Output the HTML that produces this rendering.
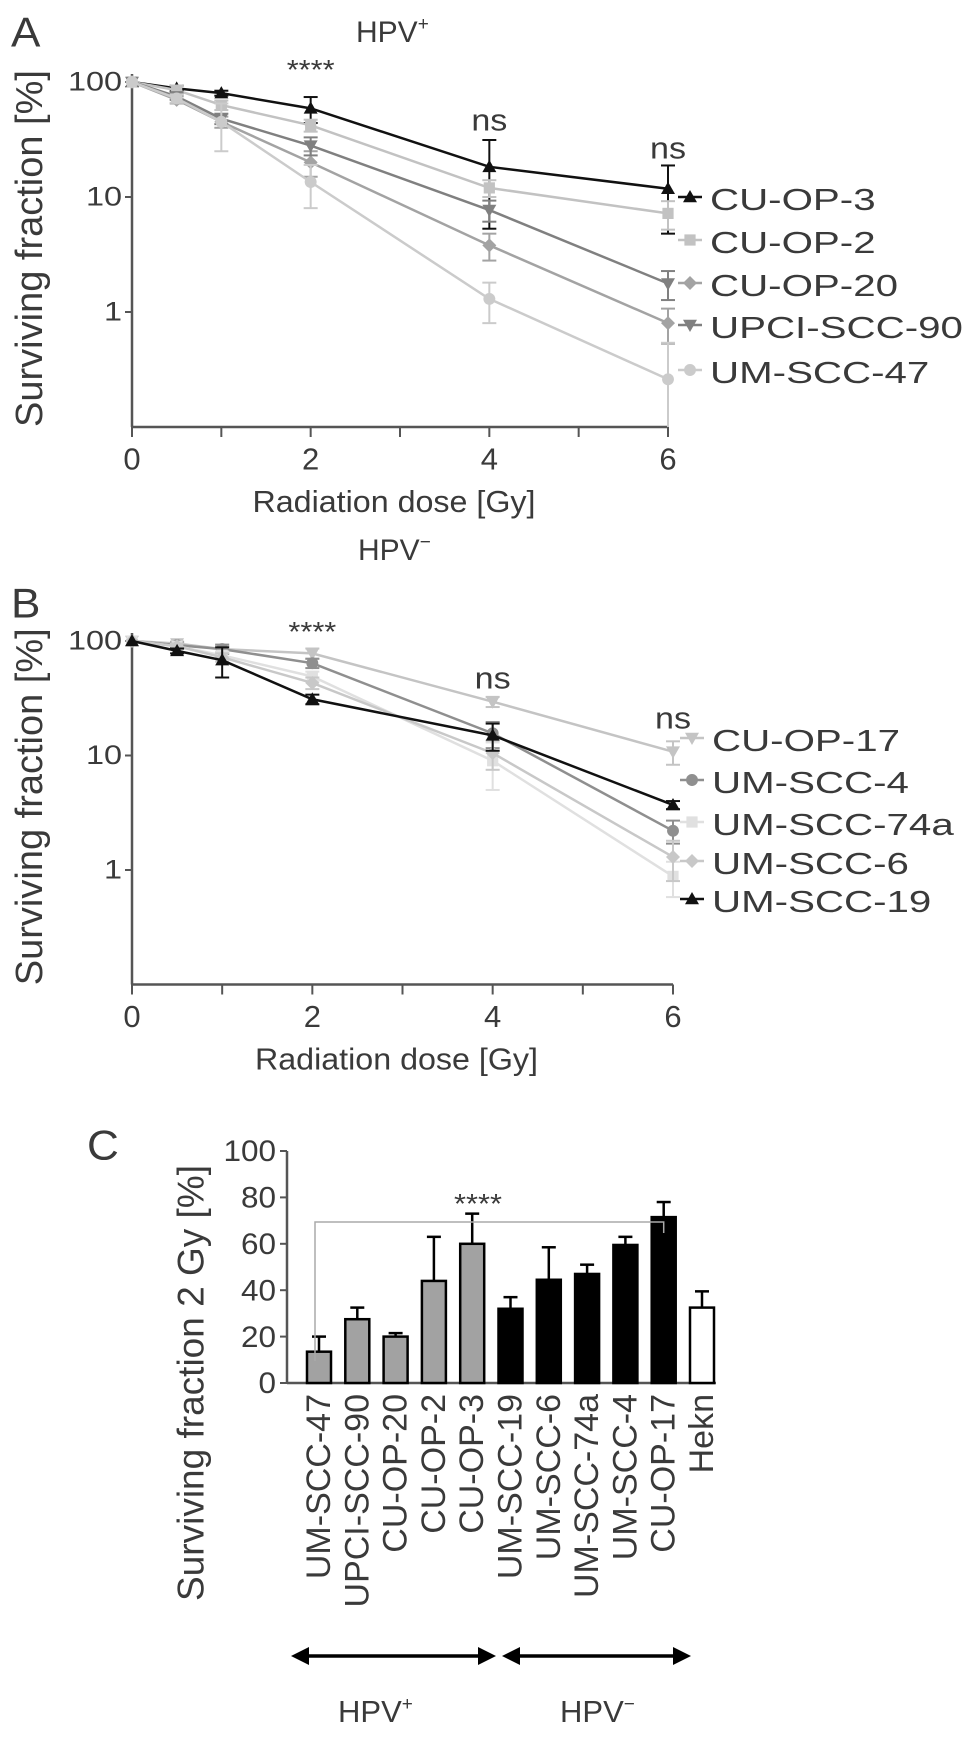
<!DOCTYPE html>
<html><head><meta charset="utf-8"><style>
html,body{margin:0;padding:0;background:#fff}
svg{display:block}
text{font-family:"Liberation Sans",Arial,sans-serif;fill:#3a3a3a}
</style></head><body>
<svg id="fig" width="969" height="1742" viewBox="0 0 969 1742" xmlns="http://www.w3.org/2000/svg"></svg>
<script>
// ---------- Data ----------
const doses = [0, 0.5, 1, 2, 4, 6];
// Panel A (HPV+)
const aNames = ["CU-OP-3","CU-OP-2","CU-OP-20","UPCI-SCC-90","UM-SCC-47"];
const aCuOp3 = [100, 88, 80, 59, 18.3, 11.8];
const aCuOp2 = [100, 85, 63, 42, 12, 7.2];
const aCuOp20 = [100, 70, 45, 20, 3.8, 0.8];
const aUpci90 = [100, 75, 48, 28, 7.7, 1.77];
const aUm47 = [100, 72, 45, 13.5, 1.3, 0.26];
const aErrCuOp3 = [0, 5, 4, 15, 13, 7];
const aErrCuOp2 = [0, 8, 6, 5, 2, 2];
const aErrCuOp20 = [0, 5, 5, 5, 1, 0.27];
const aErrUpci90 = [0, 5, 5, 5, 1.6, 0.5];
const aErrUm47 = [0, 6, 20, 5.5, 0.5, 0.28];
// Panel B (HPV-)
const bNames = ["CU-OP-17","UM-SCC-4","UM-SCC-74a","UM-SCC-6","UM-SCC-19"];
const bCuOp17 = [100, 95, 85, 78, 29.5, 10.8];
const bUm4 = [100, 92, 85, 64, 15.6, 2.2];
const bUm74a = [100, 90, 75, 49, 9, 0.88];
const bUm6 = [100, 90, 72, 43, 10.5, 1.3];
const bUm19 = [100, 82, 68, 31, 15, 3.7];
const bErrCuOp17 = [0, 4, 5, 8, 3, 2.5];
const bErrUm4 = [0, 5, 8, 6, 4, 0.5];
const bErrUm74a = [0, 5, 6, 5, 4, 0.3];
const bErrUm6 = [0, 5, 6, 5, 3, 0.5];
const bErrUm19 = [0, 4, 20, 3, 4, 0.3];
// Panel C
const cCats = ["UM-SCC-47","UPCI-SCC-90","CU-OP-20","CU-OP-2","CU-OP-3","UM-SCC-19","UM-SCC-6","UM-SCC-74a","UM-SCC-4","CU-OP-17","Hekn"];
const cVals = [13.5, 27.5, 20, 44, 60, 32, 44.5, 47, 59.5, 71.5, 32.5];
const cErrs = [6.5, 5, 1.5, 19, 13, 5, 14, 4, 3.5, 6.5, 7];
const cGroup = ["p","p","p","p","p","n","n","n","n","n","k"];
const cTicks = [0, 20, 40, 60, 80, 100];
const doseTicks = [0, 2, 4, 6];
const logTicks = [100, 10, 1];

// ---------- Helpers ----------
const NS = "http://www.w3.org/2000/svg";
const svg = document.getElementById("fig");
function el(tag, attrs, parent) {
  const e = document.createElementNS(NS, tag);
  for (const k in attrs) e.setAttribute(k, attrs[k]);
  (parent || svg).appendChild(e);
  return e;
}
function txt(x, y, s, size, anchor, rot, sx, parent) {
  const t = document.createElementNS(NS, "text");
  const tr = rot ? `translate(${x},${y}) rotate(-90) scale(1,${sx||1})` : `translate(${x},${y}) scale(${sx||1},1)`;
  t.setAttribute("transform", tr);
  t.setAttribute("font-size", size);
  t.setAttribute("text-anchor", anchor || "start");
  t.setAttribute("dominant-baseline", "central");
  t.textContent = s;
  (parent || svg).appendChild(t);
  return t;
}
function marker(g, shape, x, y, color, r) {
  r = r || 7;
  let m;
  if (shape === "tri") m = el("polygon", {points:`${x},${y-r} ${x+r},${y+r*0.75} ${x-r},${y+r*0.75}`, fill:color}, g);
  else if (shape === "tridown") m = el("polygon", {points:`${x},${y+r} ${x+r},${y-r*0.75} ${x-r},${y-r*0.75}`, fill:color}, g);
  else if (shape === "sq") m = el("rect", {x:x-r*0.8, y:y-r*0.8, width:r*1.6, height:r*1.6, fill:color}, g);
  else if (shape === "dia") m = el("polygon", {points:`${x},${y-r} ${x+r},${y} ${x},${y+r} ${x-r},${y}`, fill:color}, g);
  else m = el("circle", {cx:x, cy:y, r:r*0.85, fill:color}, g);
  return m;
}

// ---------- Survival panel ----------
function survival(cfg) {
  const g = el("g", {});
  
  
  const X = d => cfg.x0 + (cfg.x6 - cfg.x0) * d / 6;
  const Y = v => cfg.y100 + (2 - Math.log10(Math.max(v, 0.1))) * cfg.dec;
  const yBot = Y(0.1);
  const ax = el("g", {}, g);
  
  
  el("line", {x1:cfg.x0, y1:cfg.y100-8, x2:cfg.x0, y2:yBot, stroke:"#555", "stroke-width":2.5}, ax);
  el("line", {x1:cfg.x0, y1:yBot, x2:cfg.x6, y2:yBot, stroke:"#555", "stroke-width":2.5}, ax);
  logTicks.forEach(v => {
    el("line", {x1:cfg.x0-7, y1:Y(v), x2:cfg.x0, y2:Y(v), stroke:"#555", "stroke-width":2}, ax);
    const t = txt(cfg.x0 - 10, Y(v), String(v), 27, "end", false, 1.2, ax);
    
    
  });
  for (let d = 0; d <= 6; d++) el("line", {x1:X(d), y1:yBot, x2:X(d), y2:yBot+10, stroke:"#555", "stroke-width":2}, ax);
  doseTicks.forEach(d => {
    const t = txt(X(d), yBot + 32, String(d), 31, "middle", false, 1, ax);
    
    
  });
  const xt = txt((cfg.x0 + cfg.x6) / 2 - 6, yBot + 74, "Radiation dose [Gy]", 31, "middle", false, 1.04, ax);
  
  
  const yt = txt(30, (cfg.y100 + yBot) / 2 - 6, "Surviving fraction [%]", 38, "middle", true, 1, ax);
  
  
  cfg.series.forEach((s, si) => {
    const sg = el("g", {}, g);
    
    
    const pts = s.vals.map((v, i) => `${X(doses[i])},${Y(v)}`).join(" ");
    el("polyline", {points:pts, fill:"none", stroke:s.color, "stroke-width":2.5}, sg);
    s.vals.forEach((v, i) => {
      const e = s.errs[i];
      if (e > 0) {
        const x = X(doses[i]), yt2 = Y(v + e), yb = Y(Math.max(v - e, 0.1));
        el("line", {x1:x, y1:yt2, x2:x, y2:yb, stroke:s.color, "stroke-width":2}, sg);
        el("line", {x1:x-7, y1:yt2, x2:x+7, y2:yt2, stroke:s.color, "stroke-width":2}, sg);
        if (v - e > 0.1) el("line", {x1:x-7, y1:yb, x2:x+7, y2:yb, stroke:s.color, "stroke-width":2}, sg);
      }
    });
    s.vals.forEach((v, i) => {
      const m = marker(sg, s.shape, X(doses[i]), Y(v), s.color);
      
      
    });
    const lg = el("g", {}, g);
    
    
    const ly = cfg.legY[si];
    el("line", {x1:cfg.legX-12, y1:ly, x2:cfg.legX+12, y2:ly, stroke:s.color, "stroke-width":2.5}, lg);
    marker(lg, s.shape, cfg.legX, ly, s.color);
    txt(cfg.legX + 20, ly + 2, s.label, 31, "start", false, 1.3, lg);
  });
  cfg.ann.forEach(a => {
    const t = txt(X(a.d), a.y, a.s, a.s === "ns" ? 31 : 28, "middle", false, 1.1, g);
    
    
  });
}

// Panel A
const lA = txt(11, 33, "A", 42, "start", false, 1.05);


const hA = el("text", {x:356, y:42, "font-size":30});
hA.innerHTML = 'HPV<tspan dy="-12" font-size="19">+</tspan>';


survival({
  name:"panel-a-chart", x0:132, x6:668, y100:82, dec:115, legX:690,
  legY:[197, 240, 283, 325, 370],
  series:[
    {label:aNames[0], vals:aCuOp3, errs:aErrCuOp3, color:"#111", shape:"tri"},
    {label:aNames[1], vals:aCuOp2, errs:aErrCuOp2, color:"#c2c2c2", shape:"sq"},
    {label:aNames[2], vals:aCuOp20, errs:aErrCuOp20, color:"#a3a3a3", shape:"dia"},
    {label:aNames[3], vals:aUpci90, errs:aErrUpci90, color:"#808080", shape:"tridown"},
    {label:aNames[4], vals:aUm47, errs:aErrUm47, color:"#cbcbcb", shape:"circle"}
  ],
  ann:[{d:2, y:70, s:"****"}, {d:4, y:120, s:"ns"}, {d:6, y:148, s:"ns"}]
});

// Panel B
const hB = el("text", {x:358, y:560, "font-size":30});
hB.innerHTML = 'HPV<tspan dy="-12" font-size="19">−</tspan>';


const lB = txt(11, 604, "B", 42, "start", false, 1.05);


survival({
  name:"panel-b-chart", x0:132, x6:673, y100:641, dec:114.5, legX:692,
  legY:[738, 780, 822, 861, 899],
  series:[
    {label:bNames[0], vals:bCuOp17, errs:bErrCuOp17, color:"#c4c4c4", shape:"tridown"},
    {label:bNames[1], vals:bUm4, errs:bErrUm4, color:"#8f8f8f", shape:"circle"},
    {label:bNames[2], vals:bUm74a, errs:bErrUm74a, color:"#e0e0e0", shape:"sq"},
    {label:bNames[3], vals:bUm6, errs:bErrUm6, color:"#c8c8c8", shape:"dia"},
    {label:bNames[4], vals:bUm19, errs:bErrUm19, color:"#111", shape:"tri"}
  ],
  ann:[{d:2, y:632, s:"****"}, {d:4, y:678, s:"ns"}, {d:6, y:718, s:"ns"}]
});

// ---------- Panel C ----------
(function(){
  const g = el("g", {});
  
  
  const lC = txt(87, 1146, "C", 42, "start", false, 1.05, g);
  
  
  const x0 = 287, xEnd = 716, y0 = 1383, y100 = 1151;
  const Y = v => y0 - (y0 - y100) * v / 100;
  const first = 319, step = 38.3, bw = 24;
  const X = i => first + i * step;
  el("line", {x1:x0, y1:y100, x2:x0, y2:y0, stroke:"#555", "stroke-width":2.5}, g);
  el("line", {x1:x0, y1:y0, x2:xEnd, y2:y0, stroke:"#555", "stroke-width":2.5}, g);
  cTicks.forEach(v => {
    el("line", {x1:x0-7, y1:Y(v), x2:x0, y2:Y(v), stroke:"#555", "stroke-width":2}, g);
    const t = txt(x0 - 11, Y(v), String(v), 30, "end", false, 1.05, g);
    
    
  });
  const yt = txt(191, 1383, "Surviving fraction 2 Gy [%]", 37, "middle", true, 1, g);
  
  
  const fills = {p:"#a2a2a2", n:"#000", k:"#fff"};
  cVals.forEach((v, i) => {
    const x = X(i);
    const eb = el("g", {}, g);
    
    
    el("line", {x1:x, y1:Y(v), x2:x, y2:Y(v + cErrs[i]), stroke:"#000", "stroke-width":2.5}, eb);
    el("line", {x1:x-7, y1:Y(v + cErrs[i]), x2:x+7, y2:Y(v + cErrs[i]), stroke:"#000", "stroke-width":2.5}, eb);
    const r = el("rect", {x:x-bw/2, y:Y(v), width:bw, height:y0-Y(v), fill:fills[cGroup[i]], stroke:"#000", "stroke-width":2.5}, g);
    
    
    const t = txt(x, 1394, cCats[i], 34, "end", true, 1, g);
    
    
  });
  const br = el("polyline", {points:`${X(0)-4},1361 ${X(0)-4},1222 ${X(9)},1222 ${X(9)},1233`, fill:"none", stroke:"#aaa", "stroke-width":1.5}, g);
  
  
  const st = txt(478, 1204, "****", 28, "middle", false, 1.1, g);
  
  
  function arrow(xa, xb, y, name) {
    const a = el("g", {}, g);
    
    
    el("line", {x1:xa+10, y1:y, x2:xb-10, y2:y, stroke:"#000", "stroke-width":3.5}, a);
    el("polygon", {points:`${xa},${y} ${xa+18},${y-9} ${xa+18},${y+9}`, fill:"#000"}, a);
    el("polygon", {points:`${xb},${y} ${xb-18},${y-9} ${xb-18},${y+9}`, fill:"#000"}, a);
  }
  arrow(291, 496, 1656, 'hpv-positive-arrow');
  arrow(502, 691, 1656, 'hpv-negative-arrow');
  const hp = el("text", {x:338, y:1722, "font-size":31}, g);
  hp.innerHTML = 'HPV<tspan dy="-12" font-size="19">+</tspan>';
  
  
  const hn = el("text", {x:560, y:1722, "font-size":31}, g);
  hn.innerHTML = 'HPV<tspan dy="-12" font-size="19">−</tspan>';
  
  
})();
</script>
</body></html>
